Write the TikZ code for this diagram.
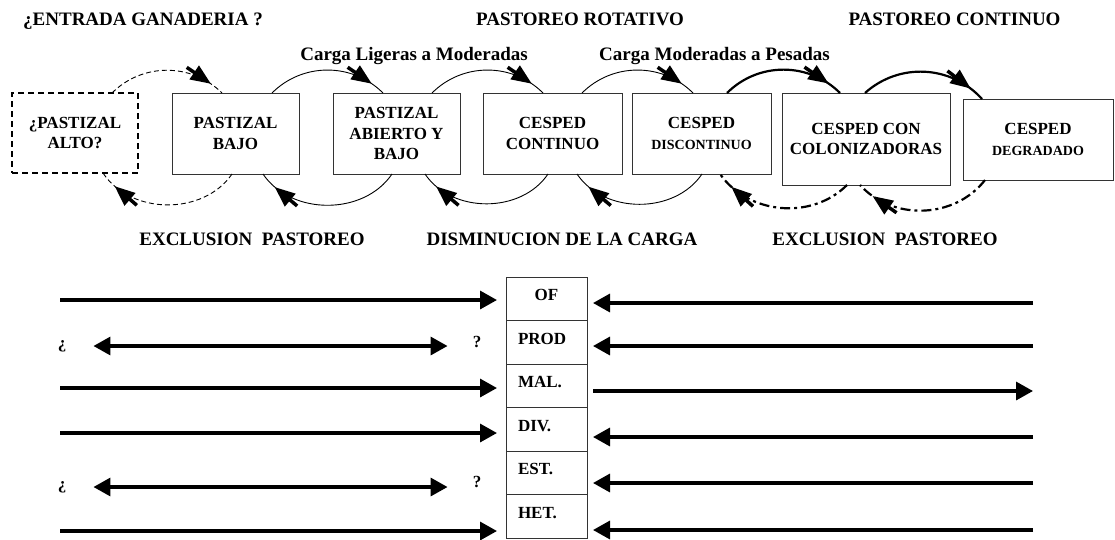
\documentclass[tikz,border=0pt]{standalone}
\usepackage{fontspec}
\setmainfont{Liberation Serif}
\usetikzlibrary{positioning}
\usetikzlibrary{arrows.meta}
\usetikzlibrary{calc}
\usetikzlibrary{decorations.markings}
\newcommand{\letraCaja}{\fontsize{17}{20.5}\selectfont\bfseries}
\newcommand{\letraChica}{\fontsize{14}{17}\selectfont\bfseries}
\newcommand{\letraTitulo}{\fontsize{19}{23}\selectfont\bfseries}
\tikzset{
  caja/.style={
    rectangle, draw=black!80, line width=0.8pt, fill=white,
    align=center, font=\letraCaja, inner sep=2pt, outer sep=0pt
  },
  cajad/.style={
    caja, draw=black, line width=1.8pt, dash pattern=on 6pt off 4pt
  },
  celda/.style={
    rectangle, draw=black!80, line width=0.8pt, minimum width=81pt,
    minimum height=43.5pt, text width=57pt, inner xsep=12pt, align=left,
    font=\letraCaja, text height=12pt, text depth=8pt, outer sep=0pt
  },
  titulo/.style={font=\letraTitulo, inner sep=0pt},
  signo/.style={font=\letraCaja, inner sep=0pt},
  flecha/.style={-{Triangle[length=17pt,width=18pt]}, line width=3.3pt},
  flechad/.style={{Triangle[length=17pt,width=18pt]}-{Triangle[length=17pt,width=18pt]}, line width=3.3pt},
  punta/.style={
    postaction={decorate},
    decoration={markings, mark=at position #1 with {
      \fill (0,0) -- (-20pt,8.5pt) -- (-20pt,-8.5pt) -- cycle;
      \draw[solid, line width=3.5pt] (-29pt,0) -- (-18pt,0);}}
  },
  arco/.style={line width=0.9pt, punta=#1},
  arcog/.style={line width=2.2pt, punta=#1},
  rayas/.style={dash pattern=on 5pt off 3pt},
  rayapunto/.style={dash pattern=on 10pt off 4pt on 3pt off 4pt}
}

\begin{document}
\begin{tikzpicture}[x=1pt, y=-1pt, node distance=0pt]
  \useasboundingbox (0,0) rectangle (1115,539);

  % estados del pastizal
  \node[cajad, minimum width=126pt, minimum height=80pt, anchor=north west] (b1) at (12,93) {¿PASTIZAL\\ALTO?};
  \node[caja, minimum width=127pt, minimum height=81pt, right=34pt of b1.north east, anchor=north west] (b2) {PASTIZAL\\BAJO};
  \node[caja, minimum width=127pt, minimum height=81pt, right=34pt of b2.north east, anchor=north west] (b3) {PASTIZAL\\ABIERTO Y\\BAJO};
  \node[caja, minimum width=139pt, minimum height=81pt, right=23pt of b3.north east, anchor=north west] (b4) {CESPED\\CONTINUO};
  \node[caja, minimum width=139pt, minimum height=81pt, right=10pt of b4.north east, anchor=north west] (b5) {CESPED\\{\letraChica DISCONTINUO}};
  \node[caja, minimum width=168pt, minimum height=92pt, right=11pt of b5.north east, anchor=north west] (b6) {CESPED CON\\COLONIZADORAS};
  \node[caja, minimum width=150pt, minimum height=81pt, right=13pt of b6.north east, anchor=north west, yshift=-6pt] (b7) {CESPED\\{\letraChica DEGRADADO}};

  \node[titulo, anchor=base] (e1) at (143,25) {¿ENTRADA GANADERIA ?};
  \node[titulo, anchor=base] (e2) at (580,25) {PASTOREO ROTATIVO};
  \node[titulo, anchor=base] (e3) at (954.5,25) {PASTOREO CONTINUO};
  \node[titulo, anchor=base] (e4) at (414,60) {Carga Ligeras a Moderadas};
  \node[titulo, anchor=base] (e5) at (714.5,60) {Carga Moderadas a Pesadas};
  \node[titulo, anchor=base] (e6) at (252,245) {EXCLUSION\ \ PASTOREO};
  \node[titulo, anchor=base] (e7) at (562,245) {DISMINUCION DE LA CARGA};
  \node[titulo, anchor=base] (e8) at (885,245) {EXCLUSION\ \ PASTOREO};

  % arcos de arriba
  \draw[arco=0.88, rayas] ([xshift=100pt]b1.north west) to[bend left=45] ([xshift=50pt]b2.north west);
  \draw[arco=0.88] ([xshift=100pt]b2.north west) to[bend left=45] ([xshift=50pt]b3.north west);
  \draw[arco=0.88] ([xshift=99pt]b3.north west) to[bend left=45] ([xshift=60pt]b4.north west);
  \draw[arco=0.88] ([xshift=99pt]b4.north west) to[bend left=45] ([xshift=61pt]b5.north west);
  \draw[arcog=0.88] ([xshift=95pt]b5.north west) to[bend left=45] ([xshift=58pt]b6.north west);
  \draw[arcog=0.88] ([xshift=83pt]b6.north west) to[bend left=45] ([xshift=19pt]b7.north west);

  % arcos de abajo
  \draw[arco=0.88, rayas] ([xshift=60pt]b2.south west) to[bend left=56] ([xshift=91pt]b1.south west);
  \draw[arco=0.88] ([xshift=59pt]b3.south west) to[bend left=56] ([xshift=91pt]b2.south west);
  \draw[arco=0.88] ([xshift=65pt]b4.south west) to[bend left=56] ([xshift=92pt]b3.south west);
  \draw[arco=0.88] ([xshift=70pt]b5.south west) to[bend left=56] ([xshift=94pt]b4.south west);
  \draw[arcog=0.88, rayapunto] ([xshift=65pt]b6.south west) to[bend left=50] ([xshift=88pt]b5.south west);
  \draw[arcog=0.88, rayapunto] ([xshift=22pt]b7.south west) to[bend left=50] ([xshift=78pt]b6.south west);

  % atributos
  \node[celda, align=center, anchor=north] (c1) at (546.5,277) {OF};
  \node[celda, below=of c1] (c2) {PROD};
  \node[celda, below=of c2] (c3) {MAL.};
  \node[celda, below=of c3] (c4) {DIV.};
  \node[celda, below=of c4] (c5) {EST.};
  \node[celda, below=of c5] (c6) {HET.};

  \node[signo] (q2) at (62,346) {¿};
  \node[signo] (p2) at (477,342) {?};
  \node[signo] (q5) at (62,487) {¿};
  \node[signo] (p5) at (477,482) {?};

  \coordinate (i1) at (60,300);
  \coordinate (i3) at (60,388);
  \coordinate (i4) at (60,433);
  \coordinate (i6) at (60,531);
  \coordinate (d1) at (1033,303);
  \coordinate (d2) at (1033,346);
  \coordinate (d3) at (1033,391);
  \coordinate (d4) at (1033,437);
  \coordinate (d5) at (1033,483);
  \coordinate (d6) at (1033,530);

  \draw[flecha, shorten >=9pt] (i1) -- (i1 -| c1.west);
  \draw[flechad, shorten <=27pt, shorten >=25pt] (q2.east) -- (q2.east -| p2.west);
  \draw[flecha, shorten >=9pt] (i3) -- (i3 -| c3.west);
  \draw[flecha, shorten >=9pt] (i4) -- (i4 -| c4.west);
  \draw[flechad, shorten <=27pt, shorten >=25pt] (q5.east) -- (q5.east -| p5.west);
  \draw[flecha, shorten >=9pt] (i6) -- (i6 -| c6.west);

  \draw[flecha, shorten >=6pt] (d1) -- (d1 -| c1.east);
  \draw[flecha, shorten >=6pt] (d2) -- (d2 -| c2.east);
  \draw[flecha, shorten <=6pt] (d3 -| c3.east) -- (d3);
  \draw[flecha, shorten >=6pt] (d4) -- (d4 -| c4.east);
  \draw[flecha, shorten >=6pt] (d5) -- (d5 -| c5.east);
  \draw[flecha, shorten >=6pt] (d6) -- (d6 -| c6.east);
\end{tikzpicture}
\end{document}
